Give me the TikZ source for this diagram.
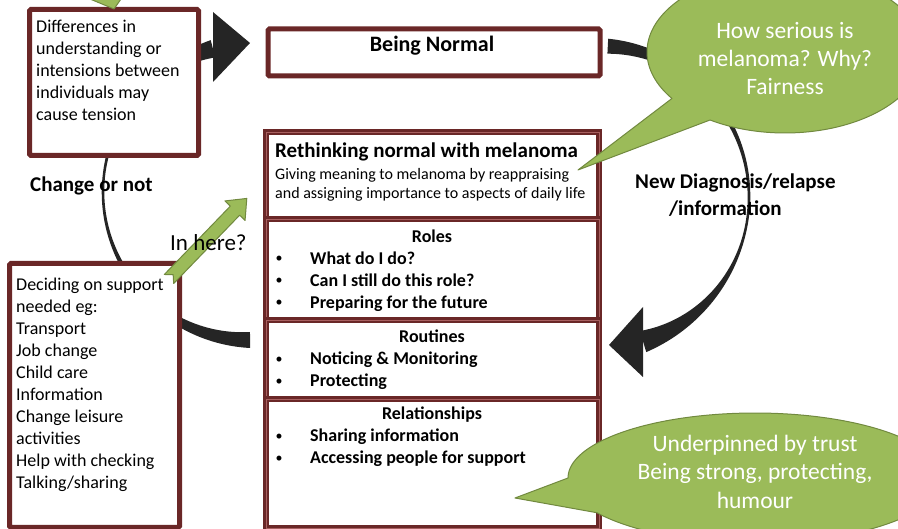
\documentclass[tikz,border=0pt]{standalone}
\usepackage{fontspec}
\setmainfont{Carlito}
\definecolor{boxred}{HTML}{6A2727}
\definecolor{boxhi}{HTML}{A86060}
\definecolor{callfill}{HTML}{9BBB59}
\definecolor{calledge}{HTML}{71893F}
\definecolor{arcblack}{HTML}{252525}
\begin{document}
\begin{tikzpicture}[x=1pt,y=-1pt,
  plainbox/.style={rectangle, draw=boxred, line width=5pt, fill=white, rounded corners=1.5pt, inner sep=0pt, anchor=north west},
  stackbox/.style={rectangle, draw=boxred, double=boxhi, double distance=1.2pt, line width=2.4pt, fill=white, inner sep=0pt, anchor=north west},
  body/.style={anchor=base west, inner sep=0pt, font=\fontsize{18}{22}\selectfont},
  bodyb/.style={anchor=base west, inner sep=0pt, font=\fontsize{18}{22}\selectfont\bfseries},
  bul/.style={anchor=base, inner sep=0pt, font=\fontsize{14}{18}\selectfont},
  small/.style={anchor=base west, inner sep=0pt, font=\fontsize{16}{19}\selectfont},
  head/.style={anchor=base, inner sep=0pt, font=\fontsize{18}{22}\selectfont\bfseries},
  label/.style={anchor=base west, inner sep=0pt, font=\fontsize{21}{25}\selectfont\bfseries},
  calltext/.style={anchor=base, inner sep=0pt, text=white, font=\fontsize{23.5}{28}\selectfont},
  callout/.style={fill=callfill, draw=calledge, line width=1pt, line join=round},
  arcfill/.style={fill=arcblack},
  declare function={
    wl(\t)=2.5+0.0015*(max(0,\t+185))^2+0.0031*(max(0,-185-\t))^2;
    wr(\t)=2.5+0.00133*(max(0,\t+10))^2+0.0049*(max(0,-10-\t))^2;
  }
]
\useasboundingbox (0,0) rectangle (898,529);
\clip (0,0) rectangle (898,529);

% ---- curved block arrows (behind everything) ----
\fill[arcfill] plot[domain=-90:-255.4, samples=120, variable=\t]
   ({250+(147+0.5*wl(\t))*cos(\t)}, {192-(148+0.5*wl(\t))*sin(\t)})
   -- plot[domain=-255.4:-90, samples=120, variable=\t]
   ({250+(147-0.5*wl(\t))*cos(\t)}, {192-(148-0.5*wl(\t))*sin(\t)}) -- cycle;
\coordinate (lh1) at (213,12);
\coordinate (lh2) at (213,82);
\coordinate (ltip) at (250,43);
\fill[arcfill] (lh1) -- (ltip) -- (lh2) -- cycle;

\fill[arcfill] plot[domain=87:-73.2, samples=120, variable=\t]
   ({600+(149+0.5*wr(\t))*cos(\t)}, {197-(151+0.5*wr(\t))*sin(\t)})
   -- plot[domain=-73.2:87, samples=120, variable=\t]
   ({600+(149-0.5*wr(\t))*cos(\t)}, {197-(151-0.5*wr(\t))*sin(\t)}) -- cycle;
\coordinate (rh1) at (643,307);
\coordinate (rh2) at (643,377);
\coordinate (rtip) at (609,345);
\fill[arcfill] (rh1) -- (rtip) -- (rh2) -- cycle;

% ---- boxes ----
\node[plainbox, minimum width=169pt, minimum height=146pt] (diff) at (27,7) {};
\node[plainbox, minimum width=332pt, minimum height=47pt] (normal) at (265.5,26.5) {};
\node[plainbox, minimum width=170pt, minimum height=264pt] (decide) at (7,261) {};

\node[stackbox, minimum width=333pt, minimum height=87pt] (reth) at (265,131) {};
\node[stackbox, minimum width=333pt, minimum height=101pt] (roles) at (265,218) {};
\node[stackbox, minimum width=333pt, minimum height=79pt] (rout) at (265,319) {};
\node[stackbox, minimum width=333pt, minimum height=129pt] (rel) at (265,398) {};

% ---- box texts ----
\foreach \s [count=\i from 0] in {Differences in, understanding or, intensions between, individuals may, cause tension}
  \node[body] (dt\i) at (36,{33+22*\i}) {\s};

\node[anchor=base, inner sep=0pt, font=\fontsize{22}{26}\selectfont\bfseries] (normaltxt) at (432,52) {Being Normal};

\node[anchor=base west, inner sep=0pt, font=\fontsize{21}{25}\selectfont\bfseries] (rethtitle) at (275,158) {Rethinking normal with melanoma};
\node[small] (reth1) at (275,180) {Giving meaning to melanoma by reappraising};
\node[small] (reth2) at (275,198.5) {and assigning importance to aspects of daily life};

\node[head] (rolest) at (432,242.7) {Roles};
\foreach \s [count=\i from 0] in {What do I do?, Can I still do this role?, Preparing for the future}{
  \node[bul] (rb\i) at (279,{263+22*\i}) {•};
  \node[bodyb] (ri\i) at (310,{264.5+22*\i}) {\s};
}

\node[head] (routt) at (432,342.7) {Routines};
\foreach \s [count=\i from 0] in {Noticing \& Monitoring, Protecting}{
  \node[bul] (ob\i) at (279,{363.5+22*\i}) {•};
  \node[bodyb] (oi\i) at (310,{365+22*\i}) {\s};
}

\node[head] (relt) at (432,420) {Relationships};
\foreach \s [count=\i from 0] in {Sharing information, Accessing people for support}{
  \node[bul] (lb\i) at (279,{440.5+22*\i}) {•};
  \node[bodyb] (li\i) at (310,{442+22*\i}) {\s};
}

\foreach \s [count=\i from 0] in {Deciding on support, needed eg:, Transport, Job change, Child care, Information, Change leisure, activities, Help with checking, Talking/sharing}
  \node[body] (ct\i) at (16,{290.7+22*\i}) {\s};

% ---- callouts ----
\coordinate (c1tip) at (578,170);
\draw[callout] plot[domain=145:482.9, samples=160, variable=\t]
   ({785+138*cos(\t)}, {52+81*sin(\t)}) -- (c1tip) -- cycle;
\node[calltext] (c1a) at (785,38.3) {How serious is};
\node[calltext] (c1b) at (785,66.7) {melanoma? Why?};
\node[calltext] (c1c) at (785,95) {Fairness};

\coordinate (c2tip) at (515,498);
\draw[callout] plot[domain=180:507.7, samples=160, variable=\t]
   ({755+187*cos(\t)}, {478+65*sin(\t)}) -- (c2tip) -- cycle;
\node[calltext] (c2a) at (755,451.7) {Underpinned by trust};
\node[calltext] (c2b) at (755,480) {Being strong, protecting,};
\node[calltext] (c2c) at (755,508.3) {humour};

% ---- green arrows ----
\coordinate (g1) at (90,-1);
\coordinate (g2) at (121,-1);
\coordinate (g3) at (114,9);
\fill[callfill] (g1) -- (g3) -- (g2) -- cycle;
\draw[calledge, line width=1pt, line join=round] (g1) -- (g3) -- (g2);

\begin{scope}[shift={(169,279)}, rotate=46]
  \draw[callout] (0,6.5) -- (95,6.5) -- (95,14) -- (112,0) -- (95,-14) -- (95,-6.5) -- (0,-6.5) -- (6,0) -- cycle;
\end{scope}

% ---- free labels ----
\node[label] (chg) at (30,191.7) {Change or not};
\node[anchor=base west, inner sep=0pt, font=\fontsize{23}{27}\selectfont] (inhere) at (170,250.7) {In here?};
\node[label] (nd1) at (635,189) {New Diagnosis/relapse};
\node[label] (nd2) at (669,215.7) {/information};
\end{tikzpicture}
\end{document}
